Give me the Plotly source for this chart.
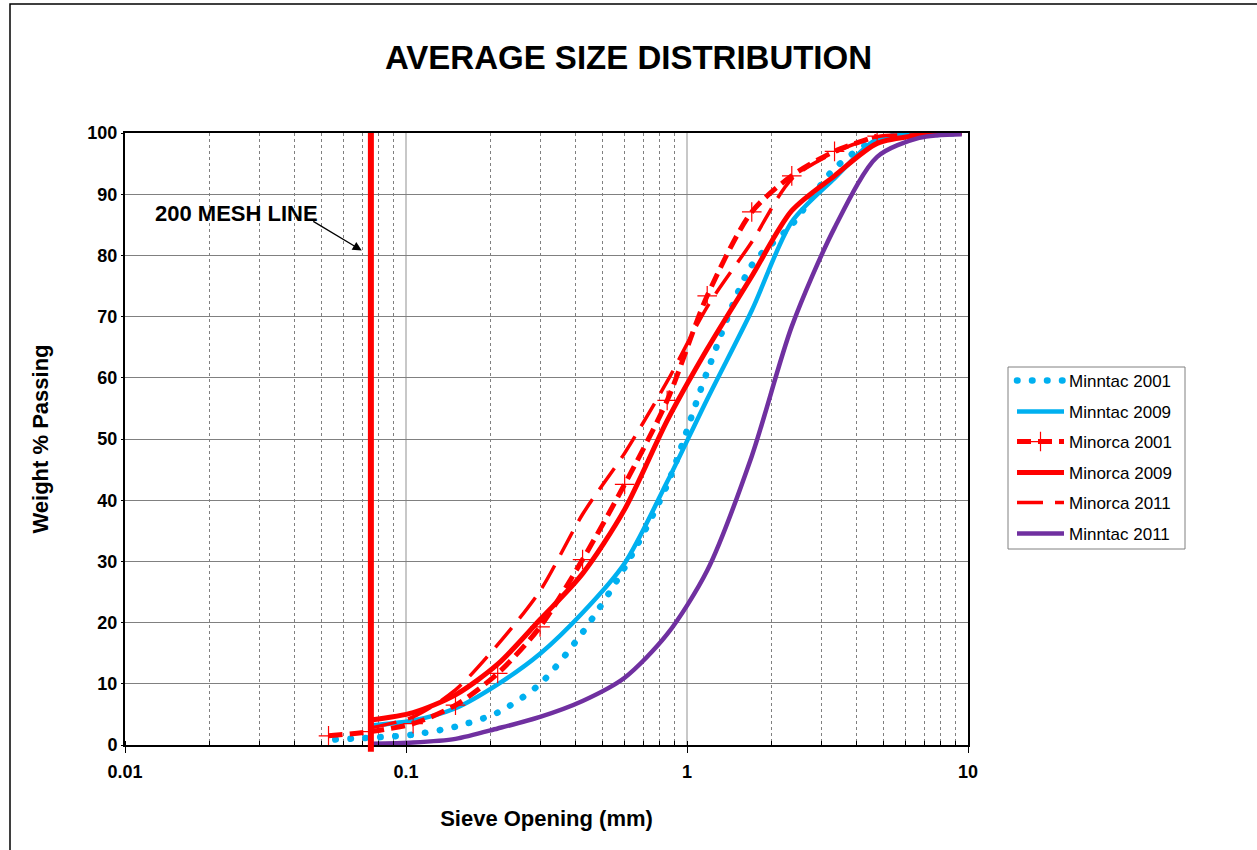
import math
import plotly.graph_objects as go

# ---------------- data ----------------
MINNTAC_2001_X = [0.056, 0.075, 0.106, 0.15, 0.212, 0.3, 0.425, 0.6, 0.85, 1.18, 1.7, 2.36, 3.35, 4.75, 6.7, 9.5]
MINNTAC_2001_Y = [0.9, 1.2, 1.7, 3.0, 5.3, 10.0, 18.4, 29.0, 42.5, 61.0, 78.4, 85.0, 94.2, 99.0, 99.7, 100]

MINNTAC_2009_X = [0.075, 0.106, 0.15, 0.212, 0.3, 0.425, 0.6, 0.85, 1.18, 1.7, 2.36, 3.35, 4.75, 6.7, 9.5]
MINNTAC_2009_Y = [3.2, 4.0, 6.0, 9.9, 14.9, 21.6, 29.7, 43.0, 56.5, 71.0, 85.5, 92.6, 99.0, 99.8, 100]

MINORCA_2001_X = [0.053, 0.075, 0.106, 0.15, 0.212, 0.3, 0.425, 0.6, 0.85, 1.18, 1.7, 2.36, 3.35, 4.75]
MINORCA_2001_Y = [1.5, 2.2, 3.5, 6.5, 11.7, 19.3, 30.3, 42.6, 56.3, 73.4, 87.1, 93.0, 97.0, 99.5]

MINORCA_2009_X = [0.075, 0.106, 0.15, 0.212, 0.3, 0.425, 0.6, 0.85, 1.18, 1.7, 2.36, 3.35, 4.75, 6.7, 9.5]
MINORCA_2009_Y = [4.1, 5.3, 8.2, 13.2, 20.5, 28.0, 38.5, 53.0, 64.7, 76.6, 87.3, 93.0, 98.3, 99.6, 100]

MINORCA_2011_X = [0.075, 0.106, 0.15, 0.212, 0.3, 0.425, 0.6, 0.85, 1.18, 1.7, 2.36, 3.35, 4.75, 6.7, 9.5]
MINORCA_2011_Y = [2.8, 4.6, 9.0, 16.4, 25.2, 37.7, 47.7, 59.4, 71.6, 82.2, 92.5, 96.8, 99.4, 99.7, 100]

MINNTAC_2011_X = [0.075, 0.106, 0.15, 0.212, 0.3, 0.425, 0.6, 0.85, 1.18, 1.7, 2.36, 3.35, 4.75, 6.7, 9.5]
MINNTAC_2011_Y = [0.2, 0.4, 1.0, 2.7, 4.6, 7.2, 11.0, 18.1, 28.5, 47.2, 68.4, 84.5, 96.1, 99.2, 99.8]

MESH_200_MM = 0.075
MESH_LABEL = "200 MESH LINE"
MESH_LABEL_POS = (0.02494, 86.8)
MESH_ARROW_TIP = (0.0696, 80.8)

X_TICKS = [0.01, 0.1, 1, 10]
X_TICK_TEXT = ["0.01", "0.1", "1", "10"]
Y_TICKS = [0, 10, 20, 30, 40, 50, 60, 70, 80, 90, 100]

TITLE = "AVERAGE SIZE DISTRIBUTION"
X_TITLE = "Sieve Opening (mm)"
Y_TITLE = "Weight % Passing"

# ---------------- styling ----------------
FONT = "Arial, Liberation Sans, Helvetica, sans-serif"
BLUE = "#00B0F0"
RED = "#FF0000"
PURPLE = "#7030A0"

W, H = 1257, 850
L, R, T, B = 125, 289, 133, 105
PW, PH = W - L - R, H - T - B


def px_to_paper_x(px):
    return (px - L) / PW


def px_to_paper_y(py):
    return 1 - (py - T) / PH


series = [
    ("Minntac 2001", MINNTAC_2001_X, MINNTAC_2001_Y, dict(color=BLUE, width=6.5, dash="0.5px,14.5px"), None),
    ("Minntac 2009", MINNTAC_2009_X, MINNTAC_2009_Y, dict(color=BLUE, width=4.5), None),
    ("Minorca 2001", MINORCA_2001_X, MINORCA_2001_Y, dict(color=RED, width=5, dash="14px,7px"),
     dict(symbol="cross-thin-open", size=14, line=dict(color=RED, width=1.2))),
    ("Minorca 2009", MINORCA_2009_X, MINORCA_2009_Y, dict(color=RED, width=5), None),
    ("Minorca 2011", MINORCA_2011_X, MINORCA_2011_Y, dict(color=RED, width=3.5, dash="26px,12px"), None),
    ("Minntac 2011", MINNTAC_2011_X, MINNTAC_2011_Y, dict(color=PURPLE, width=4.5), None),
]

LEGEND_ROWS_PX = [381, 412, 442, 473, 503, 534]

fig = go.Figure()
layout_legends = {}
for i, (name, xs, ys, line, marker) in enumerate(series):
    lg = "legend" if i == 0 else f"legend{i + 1}"
    fig.add_trace(go.Scatter(
        x=xs, y=ys, name=name,
        mode="lines+markers" if marker else "lines",
        line=dict(shape="spline", smoothing=0.8, **line),
        marker=marker,
        legend=lg,
        hoverinfo="x+y+name",
    ))
    layout_legends[lg] = dict(
        x=px_to_paper_x(1012), xanchor="left",
        y=px_to_paper_y(LEGEND_ROWS_PX[i]), yanchor="middle",
        bgcolor="rgba(0,0,0,0)", borderwidth=0,
        font=dict(family=FONT, size=17, color="black"),
        itemwidth=47,
    )

fig.update_layout(**layout_legends)

fig.update_layout(
    width=W, height=H,
    margin=dict(l=L, r=R, t=T, b=B, autoexpand=False),
    paper_bgcolor="white", plot_bgcolor="white",
    showlegend=True,
    title=dict(text=TITLE, x=0.5, xanchor="center", xref="container",
               y=1 - 57 / H, yanchor="middle", yref="container",
               font=dict(family=FONT, size=33, color="black", weight="bold")),
)

fig.update_xaxes(
    type="log", range=[-2, 1],
    tickmode="array", tickvals=X_TICKS, ticktext=X_TICK_TEXT,
    showgrid=True, gridcolor="#c8c8c8", gridwidth=1.5,
    minor=dict(dtick="D1", showgrid=True, gridcolor="#808080", griddash="dot", gridwidth=1,
               ticks="inside", ticklen=4, tickcolor="black"),
    showline=True, linecolor="black", linewidth=2, mirror=True,
    ticks="outside", ticklen=6, tickcolor="black", ticklabelstandoff=3,
    tickfont=dict(family=FONT, size=18, color="black", weight="bold"),
    title=dict(text=X_TITLE, standoff=30,
               font=dict(family=FONT, size=22, color="black", weight="bold")),
    zeroline=False,
)
fig.update_yaxes(
    range=[0, 100], tickmode="array", tickvals=Y_TICKS,
    showgrid=True, gridcolor="#808080", gridwidth=1,
    showline=True, linecolor="black", linewidth=2, mirror=True,
    ticks="outside", ticklen=2, tickcolor="black",
    tickfont=dict(family=FONT, size=18, color="black", weight="bold"),
    title=dict(text=Y_TITLE, standoff=33,
               font=dict(family=FONT, size=22, color="black", weight="bold")),
    zeroline=False,
)

# 200 mesh vertical line
fig.add_shape(type="line", xref="x", yref="paper",
              x0=MESH_200_MM, x1=MESH_200_MM, y0=-0.011, y1=1.0,
              line=dict(color=RED, width=6), layer="above")

# annotation text + arrow
fig.add_annotation(x=math.log10(MESH_LABEL_POS[0]), y=MESH_LABEL_POS[1], xref="x", yref="y",
                   text=MESH_LABEL, showarrow=False,
                   font=dict(family=FONT, size=22, color="black", weight="bold"))
fig.add_annotation(x=math.log10(MESH_ARROW_TIP[0]), y=MESH_ARROW_TIP[1], xref="x", yref="y",
                   text="", showarrow=True, ax=-50, ay=-30,
                   arrowhead=2, arrowsize=1.4, arrowwidth=1.3, arrowcolor="black")

# legend box
fig.add_shape(type="rect", xref="paper", yref="paper",
              x0=px_to_paper_x(1008), x1=px_to_paper_x(1185),
              y0=px_to_paper_y(549), y1=px_to_paper_y(367),
              line=dict(color="#808080", width=1), fillcolor="rgba(0,0,0,0)")
# outer chart frame
fig.add_shape(type="rect", xref="paper", yref="paper",
              x0=px_to_paper_x(10), x1=px_to_paper_x(1300),
              y0=px_to_paper_y(900), y1=px_to_paper_y(4),
              line=dict(color="black", width=1.5), fillcolor="rgba(0,0,0,0)")

# round caps for the dotted series (in plot and legend) so the dots are round
POST_JS = """
(function(){
  function fix(){
    var gd = document.querySelector('.js-plotly-plot');
    if(!gd) return;
    gd.querySelectorAll('path').forEach(function(p){
      var d = p.style.strokeDasharray || p.getAttribute('stroke-dasharray') || '';
      if(d.indexOf('0.5px') === 0 || d.indexOf('0.5,') === 0 || d.indexOf('0.5 ') === 0){
        p.style.strokeLinecap = 'round';
      }
    });
  }
  fix();
  var gd = document.querySelector('.js-plotly-plot');
  if(gd && gd.on){ gd.on('plotly_afterplot', fix); }
})();
"""

fig.write_html("out.html", post_script=POST_JS)
